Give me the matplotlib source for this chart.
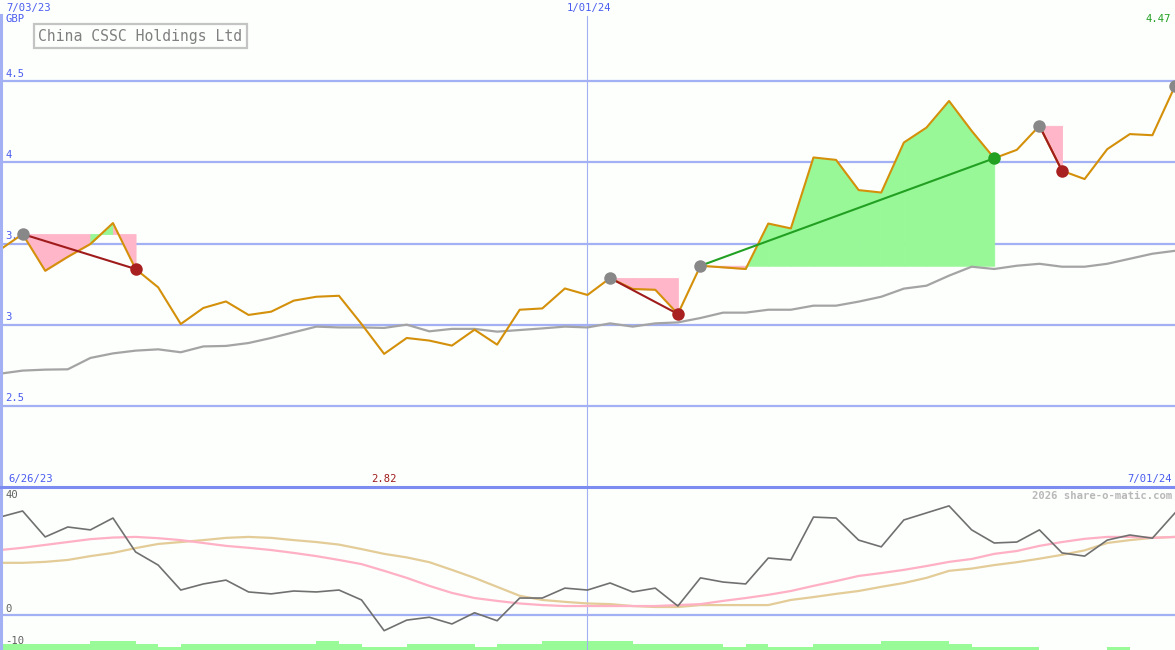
import numpy as np
import pandas as pd
import matplotlib
matplotlib.use("Agg")
import matplotlib.pyplot as plt
from matplotlib.lines import Line2D

W, H = 1175, 650

# weekly closes, GBP
dates = pd.date_range("2023-07-03", periods=53, freq="W-MON")
price = [3.462, 3.558, 3.332, 3.418, 3.497, 3.626, 3.343, 3.230, 3.004, 3.103,
         3.143, 3.060, 3.080, 3.148, 3.172, 3.178, 3.004, 2.820, 2.918, 2.902,
         2.871, 2.969, 2.877, 3.092, 3.100, 3.223, 3.183, 3.287, 3.220, 3.215,
         3.066, 3.363, 3.353, 3.343, 3.623, 3.593, 4.030, 4.015, 3.829, 3.814,
         4.122, 4.214, 4.378, 4.194, 4.025, 4.077, 4.225, 3.948, 3.897, 4.081,
         4.174, 4.167, 4.470]
avg = [2.698, 2.717, 2.723, 2.725, 2.795, 2.823, 2.840, 2.848, 2.830, 2.866,
       2.869, 2.887, 2.918, 2.953, 2.988, 2.983, 2.983, 2.980, 3.000, 2.959,
       2.974, 2.974, 2.957, 2.967, 2.977, 2.988, 2.983, 3.008, 2.988, 3.008,
       3.014, 3.041, 3.074, 3.074, 3.092, 3.092, 3.117, 3.117, 3.142, 3.172,
       3.222, 3.240, 3.302, 3.357, 3.343, 3.363, 3.375, 3.357, 3.357, 3.375,
       3.406, 3.437, 3.455]

# trades: (entry index, exit index, won)
trades = [(1, 6, False), (27, 30, False), (31, 44, True), (46, 47, False)]
open_entry = 52

# lower panel
osc = [30.6, 32.5, 24.4, 27.5, 26.6, 30.3, 19.7, 15.6, 7.8, 9.7,
       10.9, 7.2, 6.6, 7.5, 7.2, 7.8, 4.7, -4.9, -1.6, -0.7,
       -2.8, 0.7, -1.8, 5.3, 5.3, 8.4, 7.8, 10.0, 7.2, 8.4,
       2.8, 11.6, 10.3, 9.7, 17.8, 17.2, 30.6, 30.3, 23.4, 21.3,
       29.7, 31.9, 34.1, 26.6, 22.5, 22.8, 26.6, 19.4, 18.4, 23.4,
       25.0, 24.0, 31.9]
sig_pink = [20.3, 21.0, 21.9, 22.8, 23.7, 24.2, 24.4, 24.0, 23.4, 22.5,
            21.6, 21.0, 20.3, 19.4, 18.4, 17.2, 15.9, 13.8, 11.6, 9.1,
            6.9, 5.3, 4.4, 3.6, 3.1, 2.8, 2.8, 2.8, 2.8, 2.8,
            3.1, 3.4, 4.4, 5.3, 6.3, 7.5, 9.1, 10.6, 12.2, 13.1,
            14.1, 15.3, 16.6, 17.5, 19.1, 20.0, 21.6, 22.8, 23.8, 24.4,
            24.4, 24.1, 24.4]
sig_tan = [16.3, 16.3, 16.6, 17.2, 18.4, 19.4, 20.9, 22.2, 22.8, 23.4,
           24.1, 24.4, 24.1, 23.4, 22.8, 22.0, 20.6, 19.1, 18.0, 16.5,
           14.1, 11.6, 8.8, 6.0, 4.7, 4.1, 3.6, 3.4, 2.8, 2.5,
           2.5, 3.1, 3.1, 3.1, 3.1, 4.7, 5.6, 6.6, 7.5, 8.8,
           10.0, 11.6, 13.8, 14.5, 15.6, 16.5, 17.6, 18.8, 20.2, 22.5,
           23.4, 24.1, 24.4]
vol = [2, 2, 2, 2, 3, 3, 2, 1, 2, 2, 2, 2, 2, 2, 3, 2, 1, 1, 2, 2,
       2, 1, 2, 2, 3, 3, 3, 3, 2, 2, 2, 2, 1, 2, 1, 1, 2, 2, 2, 3,
       3, 3, 2, 1, 1, 1, 0, 0, 0, 1, 0, 0]

BG = "#fcfffc"
GRID = "#a4b0f4"
BLUE = "#4a5cf0"
MONO = "DejaVu Sans Mono"

fig = plt.figure(figsize=(W / 100, H / 100), dpi=100, facecolor=BG)
ax = fig.add_axes([0, 163 / H, 1, 487 / H], facecolor=BG)
bx = fig.add_axes([0, 0, 1, 163 / H], facecolor=BG)
vx = bx.twinx()

for a in (ax, bx, vx):
    for s in a.spines.values():
        s.set_visible(False)
    a.set_xticks([])
    a.set_yticks([])
    a.set_xlim(dates[0], dates[-1])

ax.set_ylim(2.0, 5.0)
bx.set_ylim(-10.94, 40)
vx.set_ylim(0, 163 / 3)
vx.set_zorder(0)
bx.set_zorder(1)
bx.patch.set_visible(False)

# grid
for lv in [2.5, 3, 3.5, 4, 4.5]:
    ax.axhline(lv, color=GRID, lw=1.6, zorder=1)
bx.axhline(0, color=GRID, lw=1.6, zorder=1)
mid = pd.Timestamp("2024-01-01")
ax.axvline(mid, ymax=(487 - 16) / 487, color=GRID, lw=0.8, zorder=1)
bx.axvline(mid, color=GRID, lw=0.8, zorder=1)

p = np.array(price)
# trade fills and lines
for e, x, won in trades:
    lvl = p[e]
    for k in range(e, x):
        c = "#98f898" if p[k + 1] > lvl else "#ffb6c8"
        ax.fill_between(dates[k:k + 2], lvl, p[k:k + 2], facecolor=c,
                        edgecolor=c, lw=0.6, zorder=2)

ax.plot(dates, avg, color="#a4a4a4", lw=1.6, zorder=3)
ax.plot(dates, price, color="#d4900a", lw=1.5, zorder=4)

for e, x, won in trades:
    lc = "#22a022" if won else "#a01c1c"
    ax.plot([dates[e], dates[x]], [p[e], p[x]], color=lc, lw=1.5, zorder=5)
    ax.plot(dates[e], p[e], "o", ms=9, color="#888888", mec="none", zorder=6)
    ax.plot(dates[x], p[x], "o", ms=9, color=("#22a022" if won else "#a82020"),
            mec="none", zorder=6)
ax.plot(dates[open_entry], p[open_entry], "o", ms=9, color="#888888", mec="none",
        zorder=6)

# lower panel
vx.bar(dates[:-1], vol, width=7, align="edge", color="#98fb98", lw=0)
bx.plot(dates, sig_tan, color="#e4cc98", lw=1.6, zorder=3)
bx.plot(dates, sig_pink, color="#ffb0c4", lw=1.6, zorder=3)
bx.plot(dates, osc, color="#707070", lw=1.2, zorder=4)

# borders
fig.add_artist(Line2D([1.2 / W, 1.2 / W], [0, 1 - 15 / H], color=GRID, lw=2.2))
fig.add_artist(Line2D([0, 1], [1 - 487 / H, 1 - 487 / H], color="#7c8cf0", lw=2.2))


def ftext(x, y, s, **kw):
    kw.setdefault("family", MONO)
    kw.setdefault("fontsize", 7.6)
    fig.text(x / W, 1 - y / H, s, **kw)


for lv, lab in [(4.5, "4.5"), (4, "4"), (3.5, "3.5"), (3, "3"), (2.5, "2.5")]:
    ax.text(0.0045, lv + 0.015, lab, transform=ax.get_yaxis_transform(),
            family=MONO, fontsize=7.6, color=BLUE, va="bottom", zorder=2)

ftext(6, 8, "7/03/23", color=BLUE, va="center")
ftext(5, 19, "GBP", color=BLUE, va="center")
ftext(589, 8, "1/01/24", color=BLUE, va="center", ha="center")
ftext(1171, 19, "%.2f" % p[-1], color="#22a022", va="center", ha="right")
ftext(38, 36, "China CSSC Holdings Ltd", color="#808080", va="center",
      fontsize=10.6,
      bbox=dict(boxstyle="square,pad=0.3", fc=BG, ec="#c4c4c4", lw=1.6))

lo = int(np.argmin(p))
ftext(8, 479, "6/26/23", color=BLUE, va="center")
ax.text(dates[lo], 2.0 + 8 / 162.33, "%.2f" % p[lo], family=MONO, fontsize=7.6,
        color="#a01c1c", ha="center", va="center")
ftext(1172, 479, "7/01/24", color=BLUE, va="center", ha="right")
ftext(1172, 496, "2026 share-o-matic.com", color="#b8b8b8", va="center",
      ha="right", fontweight="bold")
ftext(5, 495, "40", color="#606060", va="center")
ftext(5, 609, "0", color="#606060", va="center")
ftext(5, 641, "-10", color="#606060", va="center")

fig.savefig("out.png", dpi=100, facecolor=BG)
